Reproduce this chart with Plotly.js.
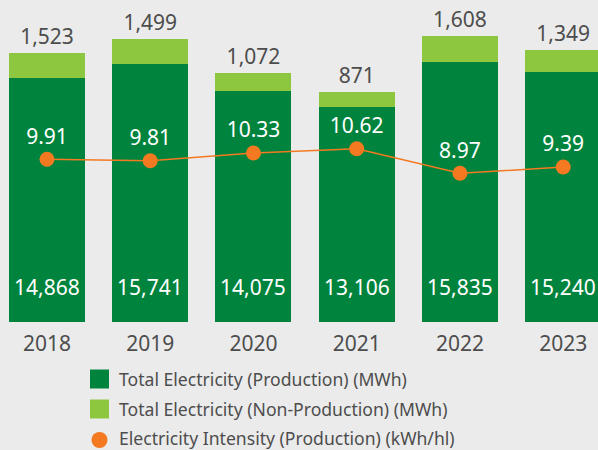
<!DOCTYPE html>
<html>
<head>
<meta charset="utf-8">
<script src="https://cdn.plot.ly/plotly-3.0.1.min.js"></script>
<style>html,body{margin:0;padding:0;background:#ebebeb;}</style>
</head>
<body>
<div id="chart" style="width:598px;height:450px;"></div>
<script>
const years = ['2018', '2019', '2020', '2021', '2022', '2023'];
const production = [14868, 15741, 14075, 13106, 15835, 15240];
const nonProduction = [1523, 1499, 1072, 871, 1608, 1349];
const intensity = [9.91, 9.81, 10.33, 10.62, 8.97, 9.39];
const seriesNames = [
  'Total Electricity (Production) (MWh)',
  'Total Electricity (Non-Production) (MWh)',
  'Electricity Intensity (Production) (kWh/hl)'
];
const seriesColors = ['#00843d', '#8dc63f', '#f47920'];

const fmt = v => v.toLocaleString('en-US');
const FONT = 'Noto Sans, Open Sans, sans-serif';
const W = 598, H = 450, B = 128, PH = H - B;

const traces = [
  {
    type: 'bar', name: seriesNames[0],
    x: years, y: production,
    marker: {color: seriesColors[0]},
    hoverinfo: 'none'
  },
  {
    type: 'bar', name: seriesNames[1],
    x: years, y: nonProduction,
    marker: {color: seriesColors[1]},
    text: nonProduction.map(fmt), textposition: 'outside',
    textfont: {family: FONT, size: 21, color: '#4d4d4d'},
    cliponaxis: false, hoverinfo: 'none'
  },
  {
    type: 'scatter', mode: 'lines+markers+text', name: seriesNames[2],
    x: years, y: intensity, yaxis: 'y2',
    line: {color: seriesColors[2], width: 1.5},
    marker: {color: seriesColors[2], size: 15},
    text: intensity.map(v => v.toFixed(2)), textposition: 'top center',
    textfont: {family: FONT, size: 21, color: '#ffffff'},
    cliponaxis: false, hoverinfo: 'none'
  }
];

// production value labels near the bar base
const annotations = years.map((yr, i) => ({
  x: i, y: 2130, xref: 'x', yref: 'y',
  text: fmt(production[i]), showarrow: false,
  font: {family: FONT, size: 21, color: '#ffffff'},
  yanchor: 'middle'
}));

// custom legend (paper coords)
const px = v => v / W;
const py = v => (PH - v) / PH;
const rowY = [379, 409, 438];
const shapes = [];
seriesNames.forEach((name, i) => {
  const cy = rowY[i];
  if (i < 2) {
    shapes.push({type: 'rect', xref: 'paper', yref: 'paper',
      x0: px(90), x1: px(109), y0: py(cy + 9.5), y1: py(cy - 9.5),
      fillcolor: seriesColors[i], line: {width: 0}});
  } else {
    shapes.push({type: 'circle', xref: 'paper', yref: 'paper',
      x0: px(91.5), x1: px(107.5), y0: py(cy + 10), y1: py(cy - 6),
      fillcolor: seriesColors[i], line: {width: 0}});
  }
  annotations.push({
    xref: 'paper', yref: 'paper', x: px(117), y: py(cy),
    xanchor: 'left', yanchor: 'middle', showarrow: false,
    text: name, font: {family: FONT, size: 17.6, color: '#4d4d4d'}
  });
});

const layout = {
  width: W, height: H,
  paper_bgcolor: '#ebebeb', plot_bgcolor: '#ebebeb',
  margin: {l: 0, r: 0, t: 0, b: B, pad: 0},
  barmode: 'stack', bargap: 0.264,
  font: {family: FONT, color: '#4d4d4d'},
  xaxis: {
    type: 'category', range: [-0.455, 5.337],
    showgrid: false, zeroline: false, showline: false, ticks: '',
    ticklabelstandoff: 7,
    tickfont: {family: FONT, size: 21, color: '#4d4d4d'}
  },
  yaxis: {range: [0, 19610], visible: false, showgrid: false, zeroline: false},
  yaxis2: {range: [-1.01, 20.6], overlaying: 'y', side: 'right', visible: false, showgrid: false, zeroline: false},
  showlegend: false,
  shapes: shapes,
  annotations: annotations
};

Plotly.newPlot('chart', traces, layout, {displayModeBar: false, staticPlot: true});
</script>
</body>
</html>
